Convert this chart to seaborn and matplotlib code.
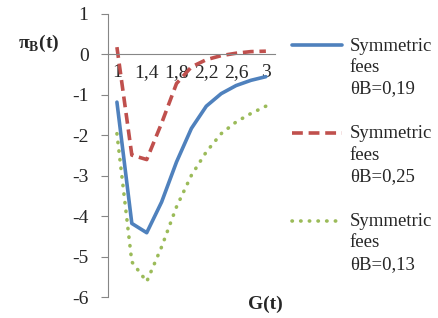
import numpy as np
import pandas as pd
import matplotlib
matplotlib.use('Agg')
import matplotlib.pyplot as plt
import seaborn as sns
from matplotlib.legend_handler import HandlerLine2D

# data
g_values = [1.0, 1.2, 1.4, 1.6, 1.8, 2.0, 2.2, 2.4, 2.6, 2.8, 3.0]
tick_labels = ['1', '1,4', '1,8', '2,2', '2,6', '3']
theta_019 = [-1.18, -4.18, -4.41, -3.65, -2.66, -1.83, -1.28, -0.97, -0.77, -0.64, -0.55]
theta_025 = [0.18, -2.49, -2.60, -1.70, -0.72, -0.31, -0.13, -0.03, 0.03, 0.07, 0.08]
theta_013 = [-1.96, -5.13, -5.62, -4.76, -3.77, -2.99, -2.41, -1.96, -1.67, -1.46, -1.28]

labels = ['Symmetric\nfees\nθB=0,19', 'Symmetric\nfees\nθB=0,25', 'Symmetric\nfees\nθB=0,13']
colors = ['#4F81BD', '#C0504D', '#9BBB59']


# legend handle drawn next to the first text line, like Excel does
class TopLineHandler(HandlerLine2D):
    def create_artists(self, legend, orig_handle, xdescent, ydescent, width, height,
                       fontsize, trans):
        arts = super().create_artists(legend, orig_handle, xdescent, ydescent, width,
                                      height, fontsize, trans)
        for a in arts:
            a.set_ydata(np.asarray(a.get_ydata()) + 16)
        return arts


sns.set_style('white')
plt.rcParams['font.family'] = ['Liberation Serif', 'DejaVu Serif']
plt.rcParams['mathtext.fontset'] = 'custom'
plt.rcParams['mathtext.bf'] = 'Liberation Serif:bold'
plt.rcParams['mathtext.rm'] = 'Liberation Serif'

df = pd.DataFrame({'pos': range(len(g_values)), 'G': g_values,
                   'a': theta_019, 'b': theta_025, 'c': theta_013})

fig = plt.figure(figsize=(4.39, 3.18), dpi=100)
ax = fig.add_axes([0.246, 0.066, 0.380, 0.890])

sns.lineplot(data=df, x='pos', y='a', ax=ax, color=colors[0], lw=2.6, label=labels[0])
sns.lineplot(data=df, x='pos', y='b', ax=ax, color=colors[1], lw=2.6, label=labels[1])
ax.lines[-1].set_dashes([3.0, 1.6])
sns.lineplot(data=df, x='pos', y='c', ax=ax, color=colors[2], lw=2.6, label=labels[2])
ax.lines[-1].set_linestyle((0, (0.1, 2.3)))
ax.lines[-1].set_dash_capstyle('round')

for s in ['top', 'right']:
    ax.spines[s].set_visible(False)
ax.spines['left'].set_color('#868686')
ax.spines['bottom'].set_color('#868686')
ax.spines['bottom'].set_position(('data', 0))

ax.set_xlim(-0.6, len(g_values) - 1 + 0.6)
ax.set_ylim(-6, 1)
ax.set_yticks(range(-6, 2))
ax.set_yticklabels([str(v) for v in range(-6, 2)], fontsize=14)
ax.set_xticks(range(0, len(g_values), 2))
ax.set_xticklabels(tick_labels, fontsize=14)
ax.set_xlabel('')
ax.set_ylabel('')
ax.tick_params(axis='y', direction='out', length=5, color='#868686', pad=9, left=True)
ax.tick_params(axis='x', length=0, pad=7)

fig.text(0.04, 0.85, r'π$_\mathbf{B}$(t)', fontsize=14, fontweight='bold')
fig.text(0.565, 0.03, 'G(t)', fontsize=14, fontweight='bold')

leg = ax.legend(loc='upper left', bbox_to_anchor=(0.648, 0.905), bbox_transform=fig.transFigure,
                frameon=False, fontsize=13.5, handlelength=2.67, handletextpad=0.42,
                labelspacing=1.5, borderaxespad=0,
                handler_map={matplotlib.lines.Line2D: TopLineHandler()})
for t in leg.get_texts():
    t.set_linespacing(1.33)

fig.savefig('out.png', dpi=100)
